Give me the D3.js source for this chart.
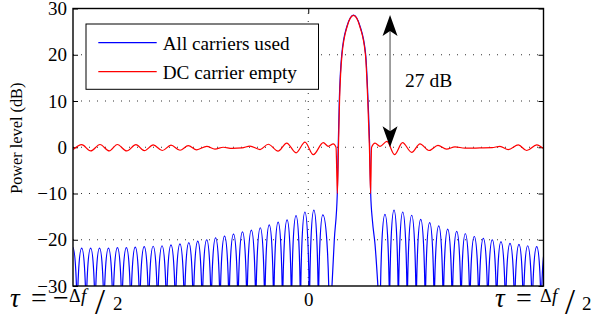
<!DOCTYPE html>
<html>
<head>
<meta charset="utf-8">
<script src="https://cdn.jsdelivr.net/npm/d3@7"></script>
<style>
  body { margin: 0; background: #fff; }
  svg { display: block; }
</style>
</head>
<body>
<svg id="chart" width="593" height="322"></svg>
<script>
// values; x in subcarrier-spacing units, tau from -Δf/2 (-26) to Δf/2 (26)
const FLOOR = -40; // lobe nulls, below the -30 dB floor
const yTicks = [-30, -20, -10, 0, 10, 20, 30];
const gridDb = [-20, -10, 0, 10, 20];

// "All carriers used" side lobes left of the main lobe
const leftPeakX = [-26.03, -25.04, -24.05, -23.07, -22.08, -21.09, -20.10, -19.12, -18.13, -17.14,
  -16.16, -15.17, -14.18, -13.20, -12.21, -11.22, -10.24, -9.25, -8.26, -7.27,
  -6.29, -5.30, -4.31, -3.33, -2.34, -1.35, -0.37, 0.62, 1.61];
const leftPeakDb = [-21.6, -21.8, -21.8, -21.8, -21.8, -21.7, -21.7, -21.6, -21.5, -21.4,
  -21.3, -21.1, -20.9, -20.6, -20.3, -20.0, -19.6, -19.2, -18.8, -18.3,
  -17.9, -17.4, -16.8, -16.2, -15.7, -14.8, -14.0, -13.6, -14.6];
const leftNullX = [-25.54, -24.55, -23.56, -22.58, -21.59, -20.60, -19.61, -18.63, -17.64, -16.65,
  -15.67, -14.68, -13.69, -12.71, -11.72, -10.73, -9.75, -8.76, -7.77, -6.78,
  -5.80, -4.81, -3.82, -2.84, -1.85, -0.86, 0.13, 1.12, 2.32];

// side lobes right of the main lobe
const rightNullX = [7.95, 8.98, 9.96, 10.94, 11.93, 12.93, 13.92, 14.92, 15.91, 16.89,
  17.86, 18.85, 19.85, 20.82, 21.80, 22.80, 23.77, 24.75, 25.74];
const rightPeakX = [8.48, 9.48, 10.44, 11.43, 12.43, 13.42, 14.42, 15.41, 16.41, 17.36,
  18.35, 19.35, 20.34, 21.30, 22.30, 23.29, 24.25, 25.25, 26.22];
const rightPeakDb = [-14.5, -13.6, -14.0, -14.7, -15.6, -16.3, -17.0, -17.7, -18.2, -18.7,
  -19.3, -19.7, -20.0, -20.4, -20.8, -21.0, -21.3, -21.5, -21.6];

// main lobe, both curves
const mainLobe = [[2.57, -32], [2.88, -20], [3.21, -10], [3.31, 0], [3.43, 10], [3.70, 20],
  [4.28, 26.2], [5.00, 28.6], [5.72, 26.2], [6.35, 20], [6.61, 10], [6.79, 0],
  [6.90, -10], [7.10, -16], [7.38, -21], [7.76, -32]];
const redMainLobe = [[3.34, 0], [3.46, 10], [3.73, 20], [4.30, 26.1], [5.00, 28.5],
  [5.70, 26.1], [6.32, 20], [6.58, 10], [6.76, 0]];

// "DC carrier empty" ripple
const redLeft = [[-25.99, -0.5], [-25.04, 0.55], [-24.04, -0.8], [-23.02, 0.6], [-21.99, -0.8],
  [-21.10, 0.6], [-20.07, -0.8], [-19.04, 0.55], [-18.12, -0.75], [-17.13, 0.5],
  [-16.13, -0.7], [-15.17, 0.45], [-14.17, -0.65], [-13.26, 0.35], [-12.33, -0.55],
  [-11.22, 0.2], [-10.31, -0.4], [-9.39, 0.0], [-8.43, -0.25], [-7.32, -0.15],
  [-6.44, 0.25], [-5.33, -0.5], [-4.42, 0.65], [-3.34, -0.85], [-2.38, 0.9],
  [-1.35, -1.2], [-0.36, 1.1], [0.56, -1.6], [1.66, 1.0], [2.22, 0.2],
  [2.77, 0.75], [3.07, 0], [3.22, -10]];
const redRight = [[6.89, -10], [7.00, 0], [7.38, 0.9], [7.93, 0.2], [8.70, 1.25],
  [9.53, -1.6], [10.42, 1.0], [11.43, -1.1], [12.35, 0.75], [13.35, -0.7],
  [14.34, 0.4], [15.28, -0.4], [16.22, 0.1], [17.32, -0.2], [18.98, -0.15],
  [20.31, -0.1], [21.19, 0.2], [22.11, -0.5], [23.22, 0.5], [24.14, -0.7],
  [25.25, 0.5], [26.00, -0.3]];

const seriesNames = ["All carriers used", "DC carrier empty"];
const seriesColors = ["#0000ff", "#ff0000"];
const arrowX = 9.04, arrowTop = 28.6, arrowBottom = 0, arrowLabel = "27 dB";

const FONT = "Liberation Serif";
const svg = d3.select("#chart").attr("font-family", FONT);
const x = d3.scaleLinear().domain([-26, 26]).range([73, 543.5]);
const y = d3.scaleLinear().domain([-30, 30]).range([286, 8.5]);
const [x0, x1] = x.range();
const [y0, y1] = y.range();

// grid
svg.append("g").selectAll("line").data(gridDb).join("line")
  .attr("x1", x0).attr("x2", x1)
  .attr("y1", d => y(d)).attr("y2", d => y(d))
  .attr("stroke", "#333").attr("stroke-width", 1).attr("stroke-dasharray", "1,7");
svg.append("line")
  .attr("x1", x(0)).attr("x2", x(0)).attr("y1", y0).attr("y2", y1)
  .attr("stroke", "#333").attr("stroke-width", 1).attr("stroke-dasharray", "1,7");

// axes
function styleAxis(g, size) {
  g.select(".domain").remove();
  g.attr("font-family", FONT).attr("font-size", size);
  g.selectAll("line").attr("stroke", "#000");
  g.selectAll("text").attr("fill", "#000");
}
svg.append("g").attr("transform", `translate(${x0},0)`)
  .call(d3.axisLeft(y).tickValues(yTicks).tickSize(-5).tickPadding(6).tickFormat(d3.format("d")))
  .call(g => styleAxis(g, 19));
svg.append("g").attr("transform", `translate(${x1},0)`)
  .call(d3.axisRight(y).tickValues(yTicks).tickSize(-5).tickFormat(""))
  .call(g => styleAxis(g, 19));
svg.append("g").attr("transform", `translate(0,${y0})`)
  .call(d3.axisBottom(x).tickValues([0]).tickSize(-5).tickPadding(7).tickFormat(d3.format("d")))
  .call(g => styleAxis(g, 19));
svg.append("g").attr("transform", `translate(0,${y1})`)
  .call(d3.axisTop(x).tickValues([0]).tickSize(-5).tickFormat(""))
  .call(g => styleAxis(g, 19));

// curves
svg.append("clipPath").attr("id", "clip").append("rect")
  .attr("x", x0).attr("y", y1).attr("width", x1 - x0).attr("height", y0 - y1);
const plot = svg.append("g").attr("clip-path", "url(#clip)");

const K = 0.552;
function archPath(pts) {
  const p = d3.path();
  pts.forEach((d, i) => {
    const px = x(d[0]), py = y(d[1]);
    if (i === 0) { p.moveTo(px, py); return; }
    const ax = x(pts[i - 1][0]), ay = y(pts[i - 1][1]);
    if (d[1] > pts[i - 1][1])
      p.bezierCurveTo(ax, ay + (py - ay) * K, px - (px - ax) * K, py, px, py);
    else
      p.bezierCurveTo(ax + (px - ax) * K, ay, px, py - (py - ay) * K, px, py);
  });
  return p.toString();
}

const blueLeft = leftPeakX.flatMap((u, i) => [[u, leftPeakDb[i]], [leftNullX[i], FLOOR]]);
const blueRight = rightNullX.flatMap((u, i) => [[u, FLOOR], [rightPeakX[i], rightPeakDb[i]]]);
const smooth = d3.line().x(d => x(d[0])).y(d => y(d[1])).curve(d3.curveMonotoneX);

[archPath(blueLeft), smooth(mainLobe), archPath(blueRight)].forEach(dPath => {
  plot.append("path").attr("d", dPath)
    .attr("fill", "none").attr("stroke", seriesColors[0]).attr("stroke-width", 1.2);
});
const redAll = redLeft.concat(redMainLobe, redRight);
plot.append("path").attr("d", smooth(redAll))
  .attr("fill", "none").attr("stroke", seriesColors[1]).attr("stroke-width", 1.2);

// box
svg.append("rect").attr("x", x0).attr("y", y1).attr("width", x1 - x0).attr("height", y0 - y1)
  .attr("fill", "none").attr("stroke", "#000").attr("stroke-width", 1.4);

// annotation arrow
const ax = x(arrowX), at = y(arrowTop), ab = y(arrowBottom);
svg.append("line").attr("x1", ax).attr("x2", ax).attr("y1", at + 10).attr("y2", ab - 10)
  .attr("stroke", "#444").attr("stroke-width", 1);
function head(tx, ty, dir) {
  return `M${tx},${ty} L${tx - 7.5},${ty + dir * 21} L${tx},${ty + dir * 16} L${tx + 7.5},${ty + dir * 21} Z`;
}
svg.append("path").attr("d", head(ax, at, 1) + head(ax, ab, -1)).attr("fill", "#000");
svg.append("text").attr("x", ax + 15).attr("y", y(20) + 32)
  .attr("font-size", 19.5).text(arrowLabel);

// legend
const lg = svg.append("g");
lg.append("rect").attr("x", 86).attr("y", 24).attr("width", 232.5).attr("height", 65.3)
  .attr("fill", "#fff").attr("stroke", "#000").attr("stroke-width", 1);
seriesNames.forEach((name, i) => {
  const ly = 42.7 + i * 29;
  lg.append("line").attr("x1", 98.3).attr("x2", 156.7).attr("y1", ly).attr("y2", ly)
    .attr("stroke", seriesColors[i]).attr("stroke-width", 1.2);
  lg.append("text").attr("x", 162.7).attr("y", ly + 6.8)
    .attr("font-size", 19.2).text(name);
});

// y label
svg.append("text")
  .attr("transform", `translate(22,${(y0 + y1) / 2 - 9}) rotate(-90)`)
  .attr("text-anchor", "middle").attr("font-size", 16.3).text("Power level (dB)");

// tau end labels
function tauLabel(left, pieces) {
  const t = svg.append("text");
  pieces.forEach(p => {
    t.append("tspan").attr("x", left + p.dx).attr("y", y0 + 21 + (p.dy || 0))
      .attr("font-size", p.size).attr("font-style", p.italic ? "italic" : null).text(p.t);
  });
}
tauLabel(x0 - 63, [
  { t: "τ", dx: 0, size: 27, italic: true },
  { t: "=", dx: 21, size: 28 },
  { t: "−", dx: 43, size: 28 },
  { t: "Δ", dx: 59, size: 18, dy: -5 },
  { t: "f", dx: 71, size: 19, dy: -5, italic: true },
  { t: "/", dx: 85, size: 36, dy: 7 },
  { t: "2", dx: 103, size: 19, dy: 3 }
]);
tauLabel(x1 - 48.5, [
  { t: "τ", dx: 0, size: 27, italic: true },
  { t: "=", dx: 21, size: 28 },
  { t: "Δ", dx: 45, size: 18, dy: -5 },
  { t: "f", dx: 57, size: 19, dy: -5, italic: true },
  { t: "/", dx: 70, size: 36, dy: 7 },
  { t: "2", dx: 87, size: 19, dy: 3 }
]);
</script>
</body>
</html>
